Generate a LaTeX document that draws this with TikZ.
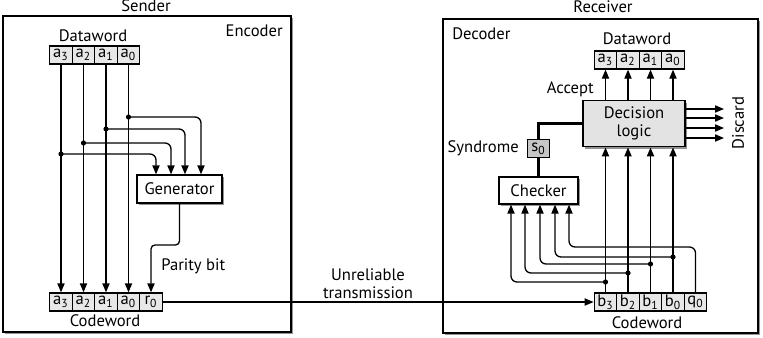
\documentclass[tikz,border=0pt]{standalone}
\usepackage{fontspec}
\setmainfont{PT Sans}
\usetikzlibrary{arrows.meta,shadows}

\begin{document}
\begin{tikzpicture}[x=0.5pt,y=-0.5pt,>={Triangle[length=4.5pt,width=3.6pt]},
  font=\fontsize{8.3}{9}\selectfont,line width=0.65pt,
  cell/.style={draw,fill=gray!18,minimum width=11.25pt,minimum height=9pt,inner sep=0pt},
  blk/.style={draw,fill=white,drop shadow={shadow xshift=1.2pt,shadow yshift=-1.2pt,fill=black!60,opacity=.7}},
  frm/.style={draw,fill=white,drop shadow={shadow xshift=1pt,shadow yshift=-1pt,fill=black!60,opacity=.7}},
  jn/.style={fill,radius=1.3pt}]
  \useasboundingbox (0,0) rectangle (763,337);
  \draw[frm] (3,16) rectangle (291,332);
  \draw[frm] (443,19) rectangle (758,333);
  \node (sender) at (146,6) {Sender};
  \node[anchor=north east] (encoder) at (290,18) {Encoder};
  \node (receiver) at (603,7) {Receiver};
  \node[anchor=north west] (decoder) at (445,20) {Decoder};
  % sender
  \node (dwl) at (93,36) {Dataword};
  \node[cell] (la3) at (61,55)    {a\textsubscript{3}};
  \node[cell] (la2) at (83.5,55)  {a\textsubscript{2}};
  \node[cell] (la1) at (106,55)   {a\textsubscript{1}};
  \node[cell] (la0) at (128.5,55) {a\textsubscript{0}};
  \node[cell] (lc3) at (61,302)    {a\textsubscript{3}};
  \node[cell] (lc2) at (83.5,302)  {a\textsubscript{2}};
  \node[cell] (lc1) at (106,302)   {a\textsubscript{1}};
  \node[cell] (lc0) at (128.5,302) {a\textsubscript{0}};
  \node[cell] (lr0) at (151,302)   {r\textsubscript{0}};
  \node (cwl) at (105,321) {Codeword};
  \node[blk,minimum width=42.5pt,minimum height=14pt] (gen) at (179.5,189) {Generator};
  \foreach \c in {3,2,1,0}
    \draw[->] (la\c) -- (lc\c);
  \coordinate (j0) at (la0 |- 0,117);
  \coordinate (j1) at (la1 |- 0,129);
  \coordinate (j2) at (la2 |- 0,143);
  \coordinate (j3) at (la3 |- 0,154);
  \draw[->,rounded corners=3pt] (j0) -| (gen.north -| 201,0);
  \draw[->,rounded corners=3pt] (j1) -| (gen.north -| 185,0);
  \draw[->,rounded corners=3pt] (j2) -| (gen.north -| 171,0);
  \draw[->,rounded corners=3pt] (j3) -| (gen.north -| 156,0);
  \foreach \c in {0,1,2,3}
    \fill[jn] (j\c) circle;
  \draw[->,rounded corners=2pt] (gen) |- (lr0.north |- 0,245) -- (lr0);
  \node[right] (par) at (154,266) {Parity bit};
  % channel
  \node[align=center] (unrel) at (368,284) {Unreliable\\transmission};
  % receiver
  \node (dwr) at (637,39) {Dataword};
  \node[cell] (ra3) at (605.5,60) {a\textsubscript{3}};
  \node[cell] (ra2) at (628,60)   {a\textsubscript{2}};
  \node[cell] (ra1) at (650.5,60) {a\textsubscript{1}};
  \node[cell] (ra0) at (673,60)   {a\textsubscript{0}};
  \node[blk,fill=gray!22,minimum width=51pt,minimum height=20.5pt,align=center] (dec) at (634,123.5) {Decision\\logic};
  \node[cell] (rb3) at (605.5,302) {b\textsubscript{3}};
  \node[cell] (rb2) at (628,302)   {b\textsubscript{2}};
  \node[cell] (rb1) at (650.5,302) {b\textsubscript{1}};
  \node[cell] (rb0) at (673,302)   {b\textsubscript{0}};
  \node[cell] (rq0) at (695.5,302) {q\textsubscript{0}};
  \node (cwr) at (647,323) {Codeword};
  \draw[->] (lr0) -- (rb3);
  \foreach \c in {3,2,1,0} {
    \draw[->] (dec.north -| ra\c) -- (ra\c);
    \draw[->] (rb\c) -- (dec.south -| rb\c);
  }
  \node[anchor=east] (acc) at (601,89) {Accept};
  \foreach \y [count=\i] in {109,118,128,138} {
    \coordinate (dis\i) at (724,\y);
    \draw[->] (dec.east |- dis\i) -- (dis\i);
  }
  \node[rotate=90] (discard) at (738,123) {Discard};
  \node[cell,fill=gray!45,minimum height=9pt] (s0) at (538.5,148.5) {s\textsubscript{0}};
  \node[anchor=east] (syn) at (526,148) {Syndrome};
  \node[blk,minimum width=39.5pt,minimum height=13.5pt] (chk) at (538.5,190.5) {Checker};
  \draw[line width=1.6pt] (s0) |- (dec);
  \draw[line width=1.6pt] (s0) -- (chk);
  \coordinate (jb3) at (rb3 |- 0,282);
  \coordinate (jb2) at (rb2 |- 0,273);
  \coordinate (jb1) at (rb1 |- 0,264);
  \coordinate (jb0) at (rb0 |- 0,257);
  \draw[->,rounded corners=3pt] (jb3) -| (chk.south -| 511,0);
  \draw[->,rounded corners=3pt] (jb2) -| (chk.south -| 525,0);
  \draw[->,rounded corners=3pt] (jb1) -| (chk.south -| 540,0);
  \draw[->,rounded corners=3pt] (jb0) -| (chk.south -| 555,0);
  \draw[->,rounded corners=3pt] (rq0) |- (569,247) -- (chk.south -| 569,0);
  \foreach \c in {0,1,2,3}
    \fill[jn] (jb\c) circle;
\end{tikzpicture}
\end{document}
